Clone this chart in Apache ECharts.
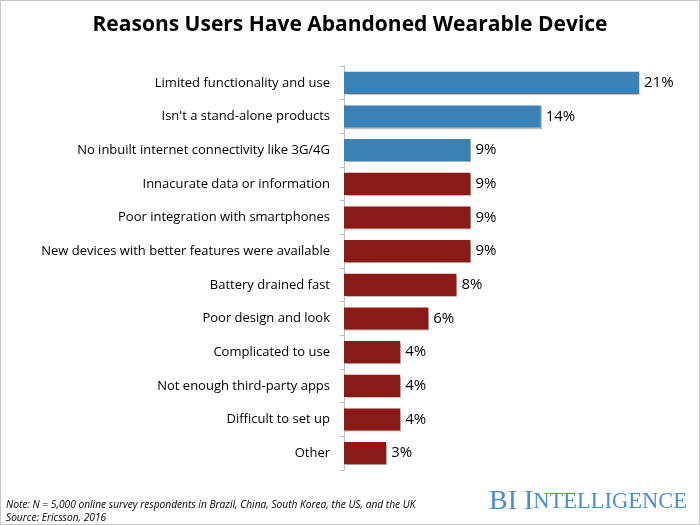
<!DOCTYPE html>
<html><head><meta charset="utf-8">
<script src="https://cdn.jsdelivr.net/npm/echarts@6/dist/echarts.min.js"></script>
<style>html,body{margin:0;padding:0;background:#fff}#c{width:700px;height:525px;box-sizing:border-box;border:1px solid #c8c8c8}</style>
</head><body><div id="c"></div>
<script>
const categories = ["Limited functionality and use","Isn't a stand-alone products","No inbuilt internet connectivity like 3G/4G","Innacurate data or information","Poor integration with smartphones","New devices with better features were available","Battery drained fast","Poor design and look","Complicated to use","Not enough third-party apps","Difficult to set up","Other"];
const values = [21,14,9,9,9,9,8,6,4,4,4,3];
const highlighted = [true,true,true,false,false,false,false,false,false,false,false,false];
const blue = '#3a82b5', red = '#891a17', brand = '#4a8fd0';
const chart = echarts.init(document.getElementById('c'), null, {renderer:'canvas'});
chart.setOption({
  animation:false,
  title:{text:'Reasons Users Have Abandoned Wearable Device',left:'center',top:9,
    textStyle:{fontFamily:'Open Sans',fontWeight:'bold',fontSize:21,color:'#000'}},
  grid:{left:343,right:60,top:65,bottom:54,containLabel:false},
  xAxis:{type:'value',min:0,max:21,show:false},
  yAxis:{type:'category',inverse:true,data:categories,
    axisLine:{show:true,lineStyle:{color:'#bfbfbf'}},
    axisTick:{show:true,length:4,lineStyle:{color:'#bfbfbf'}},
    axisLabel:{fontFamily:'Open Sans',fontSize:13,color:'#000',margin:14}},
  series:[{type:'bar',barWidth:'66%',
    data:values.map((v,i)=>({value:v,itemStyle:{color:highlighted[i]?blue:red}})),
    itemStyle:{shadowColor:'rgba(0,0,0,0.25)',shadowBlur:1,shadowOffsetX:1,shadowOffsetY:1},
    label:{show:true,position:'right',distance:5,formatter:'{c}%',fontFamily:'Open Sans',fontSize:15,color:'#000'}}],
  graphic:[
    {type:'text',left:5,top:499,style:{text:'Note: N = 5,000 online survey respondents in Brazil, China, South Korea, the US, and the UK',font:'italic 10.2px "Open Sans"',fill:'#000'}},
    {type:'text',left:5,top:512,style:{text:'Source: Ericsson, 2016',font:'italic 10.2px "Open Sans"',fill:'#000'}},
    {type:'text',right:12,top:487,style:{text:'{a|BI I}{b|NTELLIGENCE}',fill:brand,rich:{a:{fontFamily:'Liberation Serif',fontSize:28,fill:brand},b:{fontFamily:'Liberation Serif',fontSize:22.5,fill:brand}}}}
  ]
});
</script></body></html>
